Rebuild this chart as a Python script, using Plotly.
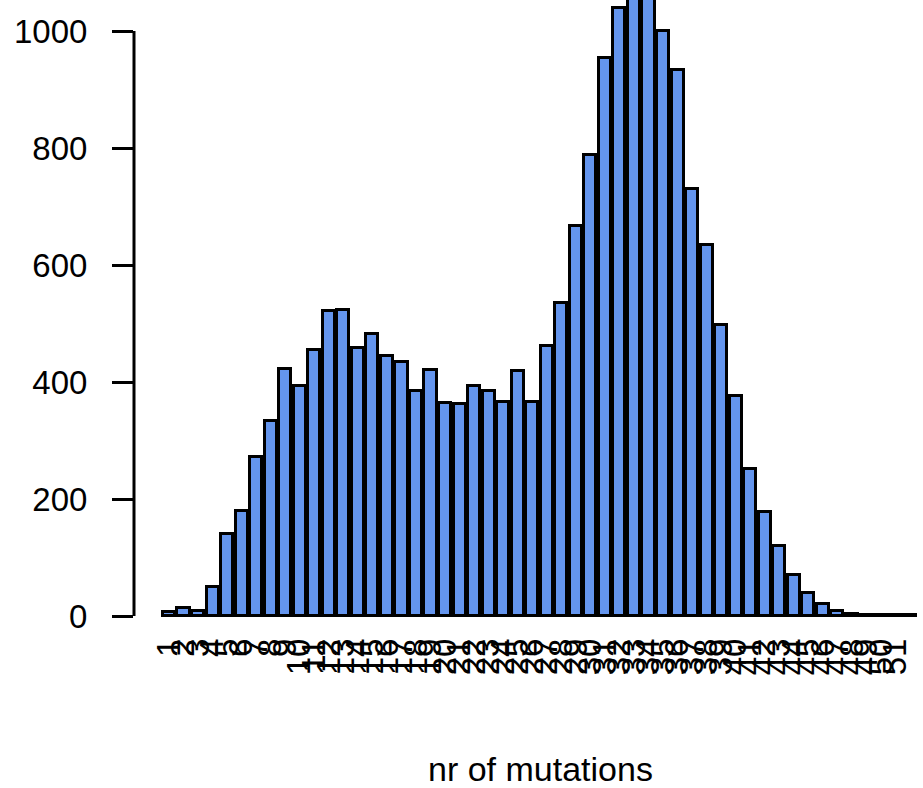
import plotly.graph_objects as go

# Data
mutations = list(range(1, 53))
counts = [7, 13, 8, 50, 140, 180, 272, 334, 422, 393,
          455, 521, 523, 458, 482, 445, 435, 384, 420, 364,
          363, 393, 385, 366, 418, 365, 462, 535, 666, 788,
          953, 1039, 1070, 1090, 1000, 933, 730, 634, 497, 376,
          251, 177, 119, 70, 39, 20, 9, 4, 2, 1,
          1, 1]
y_ticks = [0, 200, 400, 600, 800, 1000]
x_title = "nr of mutations"

FONT = "Liberation Sans, Arial, Helvetica, sans-serif"

fig = go.Figure()
fig.add_trace(go.Bar(
    x=mutations,
    y=counts,
    width=0.833,
    marker=dict(color="#6495ED", line=dict(color="black", width=3)),
))

W, H = 923, 788
L, R, T, B = 134, 0, 0, 168
px_per_unit = 14.53
x0 = 1 - (169 - L) / px_per_unit
x1 = x0 + (W - L - R) / px_per_unit
plot_h = H - T - B
y_px = 0.585
y_bottom = -(plot_h - 616) / y_px
y_top = y_bottom + plot_h / y_px

fig.update_layout(
    width=W, height=H,
    margin=dict(l=L, r=R, t=T, b=B, pad=0),
    paper_bgcolor="white", plot_bgcolor="white",
    showlegend=False,
    bargap=0,
    font=dict(family=FONT, size=33, color="black"),
    xaxis=dict(
        range=[x0, x1],
        tickmode="array",
        tickvals=mutations,
        ticktext=[str(m) for m in mutations],
        tickangle=-90,
        ticks="",
        showline=False, showgrid=False, zeroline=False,
        tickfont=dict(family=FONT, size=33, color="black"),
        ticklabelstandoff=11,
    ),
    yaxis=dict(
        range=[y_bottom, y_top],
        tickmode="array",
        tickvals=y_ticks,
        ticks="outside", ticklen=21, tickwidth=3, tickcolor="black",
        showline=False, showgrid=False, zeroline=False,
        tickfont=dict(family=FONT, size=33, color="black"),
        ticklabelstandoff=18,
    ),
    shapes=[dict(type="line", xref="paper", yref="y",
                 x0=0, x1=0, y0=0, y1=1000,
                 line=dict(color="black", width=3))],
    annotations=[dict(text=x_title, xref="paper", yref="paper",
                      x=(540 - L) / (W - L - R), y=(plot_h - 769) / plot_h,
                      xanchor="center", yanchor="middle", showarrow=False,
                      font=dict(family=FONT, size=34, color="black"))],
)

fig.write_html("out.html")
